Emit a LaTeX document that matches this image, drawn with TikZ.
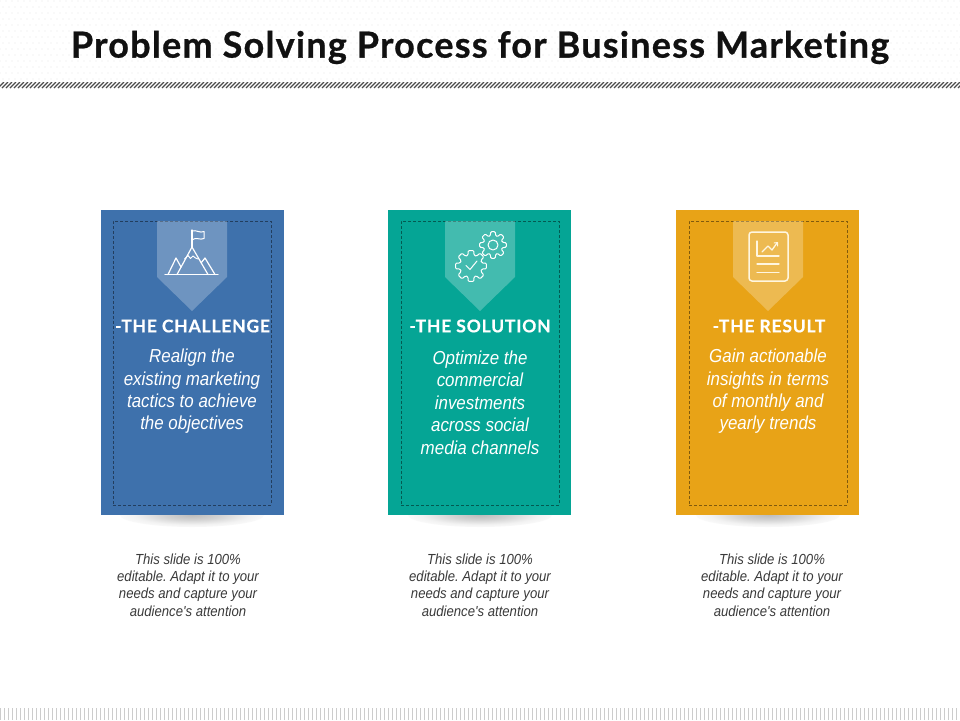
\documentclass[tikz,border=0pt]{standalone}
\usepackage{fontspec}
\setmainfont{Liberation Sans}
\newfontfamily\titlef[LetterSpace=3.4,Ligatures=NoCommon,BoldFeatures={FakeBold=0.7}]{Lato}
\newfontfamily\headf[LetterSpace=4.5,Ligatures=NoCommon,BoldFeatures={FakeBold=0.5}]{Lato}
\newfontfamily\bodyf[FakeStretch=0.9]{Liberation Sans}
\definecolor{cblue}{HTML}{3E71AC}
\definecolor{cteal}{HTML}{05A595}
\definecolor{corange}{HTML}{E8A317}
\definecolor{ink}{HTML}{111111}
\definecolor{bodyink}{HTML}{3A3A3A}
\definecolor{iconcream}{HTML}{FFF6E0}
\pgfdeclareradialshading{softshadow}{\pgfpoint{0cm}{0cm}}{color(0cm)=(black!26!white);color(0.35cm)=(black!17!white);color(0.7cm)=(black!5!white);color(1cm)=(white);color(2cm)=(white)}
\tikzset{
  x=1pt,y=-1pt,
  cardbox/.style={minimum width=183pt,minimum height=305pt,inner sep=0pt,outer sep=0pt},
  dashbox/.style={minimum width=158pt,minimum height=284pt,inner sep=0pt,draw=#1!55!black,densely dashed,line width=0.6pt},
  badge/.style={fill=white,fill opacity=0.25},
  icon/.style={draw=white,line width=1.2pt,line join=round,line cap=round,fill=none},
  heading/.style={text=white,font=\headf\fontsize{17.5}{20}\selectfont\bfseries,inner sep=0pt},
  bodytext/.style={text=white,align=center,inner sep=0pt,font=\bodyf\fontsize{18.8}{22.4}\selectfont\itshape},
  notetext/.style={text=bodyink,align=center,inner sep=0pt,font=\bodyf\fontsize{14.6}{17.4}\selectfont\itshape},
}
\newcommand{\gearshape}[4]{% cx cy outer inner
  \draw[icon,line width=1pt,rounded corners=1pt] ({#1+#4*cos(-16)},{#2+#4*sin(-16)})
    \foreach \k in {0,...,7}{
      -- ({#1+#3*cos(45*\k-10)},{#2+#3*sin(45*\k-10)})
      -- ({#1+#3*cos(45*\k+10)},{#2+#3*sin(45*\k+10)})
      -- ({#1+#4*cos(45*\k+16)},{#2+#4*sin(45*\k+16)})
      -- ({#1+#4*cos(45*\k+29)},{#2+#4*sin(45*\k+29)})
    } -- cycle;
}
\begin{document}
\frenchspacing
\begin{tikzpicture}
\useasboundingbox (0,0) rectangle (960,720);
\fill[white] (0,0) rectangle (960,720);
% header dots
\foreach \i in {0,...,160}{\foreach \j in {0,...,13}{
  \fill[black!9] ({\i*6+mod(\j,2)*3},{\j*6+1}) circle (0.7);
}}
% header hatch
\begin{scope}
\clip (0,82) rectangle (960,88);
\foreach \i in {0,...,242}{
  \draw[black!70,line width=1.1pt] ({\i*4-2},88) -- ({\i*4+4},82);
}
\end{scope}
% bottom strip
\foreach \i in {0,...,240}{
  \fill[black!20] ({\i*4},708) rectangle ({\i*4+1.4},720);
}
\node[font=\titlef\fontsize{36}{40}\selectfont\bfseries,text=ink,inner sep=0pt] (title) at (480,47.5) {Problem Solving Process for Business Marketing};

% shadows
\foreach \cx in {192,480,768}{
  \begin{scope}
    \clip (\cx-90,515) rectangle (\cx+90,535);
    \shade[shading=softshadow] (\cx,515) ellipse (72 and 12);
  \end{scope}
}
% card 1
\node[cardbox,fill=cblue] (card1) at (192.5,362.5) {};
\node[dashbox=cblue] (dash1) at (192,363) {};
\fill[badge] (157,221) -- (227,221) -- (227,277) -- (192,311) -- (157,277) -- cycle;
\node[heading] (head1) at (192.5,326) {-THE CHALLENGE};
\node[bodytext] (body1) at (192,391.5) {Realign the\\existing marketing\\tactics to achieve\\the objectives};
\node[notetext] (note1) at (188,585) {This slide is 100\%\\editable. Adapt it to your\\needs and capture your\\audience's attention};
\draw[icon] (165,274.5) -- (218,274.5);
\draw[icon] (177,274.5) -- (192,247) -- (208,274.5);
\draw[icon] (168,274.5) -- (176,258) -- (181,267);
\draw[icon] (201,263) -- (205,258) -- (215,274.5);
\draw[icon,line width=1pt] (184.5,259) -- (188,255.5) -- (190.5,258.5) -- (193,256) -- (195.5,258) -- (198,259);
\draw[icon] (192,247) -- (192,230);
\draw[icon,line width=1pt] (192,231) .. controls (196,229.5) and (200,233.5) .. (204,231.5) -- (204,238.5) .. controls (200,240.5) and (196,236.5) .. (192,240);
% card 2
\node[cardbox,fill=cteal] (card2) at (479.5,362.5) {};
\node[dashbox=cteal] (dash2) at (480,363) {};
\fill[badge] (445,221) -- (515,221) -- (515,277) -- (480,311) -- (445,277) -- cycle;
\node[heading] (head2) at (480,326) {-THE SOLUTION};
\node[bodytext] (body2) at (480,402.5) {Optimize the\\commercial\\investments\\across social\\media channels};
\node[notetext] (note2) at (480,585) {This slide is 100\%\\editable. Adapt it to your\\needs and capture your\\audience's attention};
\gearshape{471}{266}{15.7}{11.2}
\gearshape{493}{245}{13.5}{9.6}
\draw[icon,line width=1pt] (493,245) circle (5);
\draw[icon,line width=1pt] (466,265.5) -- (470,269.5) -- (477,261);
% card 3
\node[cardbox,fill=corange] (card3) at (767.5,362.5) {};
\node[dashbox=corange] (dash3) at (768,363) {};
\fill[badge] (733,221) -- (803,221) -- (803,277) -- (768,311) -- (733,277) -- cycle;
\node[heading] (head3) at (769,326) {-THE RESULT};
\node[bodytext] (body3) at (768,391.5) {Gain actionable\\insights in terms\\of monthly and\\yearly trends};
\node[notetext] (note3) at (772,585) {This slide is 100\%\\editable. Adapt it to your\\needs and capture your\\audience's attention};
\draw[icon,draw=iconcream,line width=1.5pt,rounded corners=3pt] (749,232) rectangle (788,281);
\draw[icon,draw=iconcream,line width=1.3pt] (757,241) -- (757,256) -- (779,256);
\draw[icon,draw=iconcream,line width=1.3pt] (762,252) -- (768,246) -- (772,250) -- (777,243);
\draw[icon,draw=iconcream,line width=1pt] (774,243) -- (777.5,242.5) -- (777.5,246);
\draw[icon,draw=iconcream,line width=1.3pt] (757,264) -- (779,264) (757,272.5) -- (779,272.5);
\end{tikzpicture}
\end{document}
